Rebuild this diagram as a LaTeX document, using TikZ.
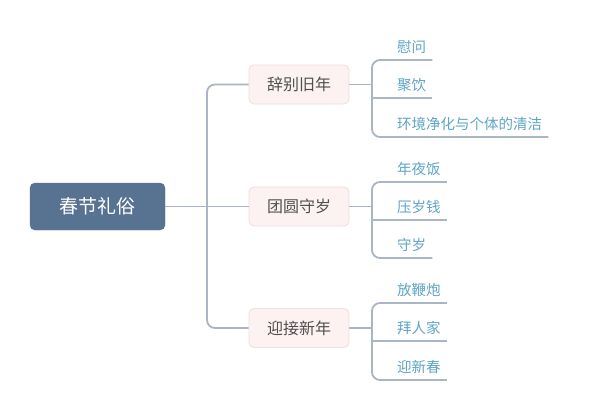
\documentclass[tikz,border=0pt]{standalone}
\usepackage{fontspec}
\setmainfont{Noto Sans CJK SC}
\usetikzlibrary{calc}
\definecolor{rootfill}{RGB}{88,115,145}
\definecolor{linec}{RGB}{170,182,195}
\definecolor{brfill}{RGB}{253,242,242}
\definecolor{brdraw}{RGB}{242,220,220}
\definecolor{brtext}{RGB}{80,80,80}
\definecolor{leaftext}{RGB}{95,165,200}
\tikzset{
  rootbox/.style={draw=rootfill, fill=rootfill, rounded corners=5pt, minimum width=135pt, minimum height=47pt, text=white, font=\fontsize{19}{22}\selectfont, inner sep=0pt},
  brbox/.style={draw=brdraw, line width=0.8pt, fill=brfill, rounded corners=5pt, minimum width=100pt, minimum height=39pt, text=brtext, font=\fontsize{16}{19}\selectfont, inner sep=0pt},
  leaf/.style={anchor=south west, inner sep=0pt, text=leaftext, font=\fontsize{14.5}{17}\selectfont},
  conn/.style={draw=linec, line width=1.8pt, rounded corners=8pt},
}
\begin{document}
\begin{tikzpicture}[x=1pt,y=-1pt]
\useasboundingbox (0,0) rectangle (600,400);
\fill[white] (0,0) rectangle (600,400);

\node[rootbox] (root) at (97.5,206.5) {春节礼俗};
\node[brbox] (b1) at (299,84.5) {辞别旧年};
\node[brbox] (b2) at (299,206.5) {团圆守岁};
\node[brbox] (b3) at (299,328) {迎接新年};

% leaves of b1
\node[leaf] (l11) at (397,54) {慰问};
\node[leaf] (l12) at (397,92) {聚饮};
\node[leaf] (l13) at (397,131) {环境净化与个体的清洁};
% leaves of b2
\node[leaf] (l21) at (397,176) {年夜饭};
\node[leaf] (l22) at (397,214) {压岁钱};
\node[leaf] (l23) at (397,252) {守岁};
% leaves of b3
\node[leaf] (l31) at (397,297) {放鞭炮};
\node[leaf] (l32) at (397,335) {拜人家};
\node[leaf] (l33) at (397,374) {迎新春};

\foreach \l in {l11,l12,l13,l21,l22,l23,l31,l32,l33}{
  \coordinate (e\l) at ($(\l.south east)+(6,6)$);
}

% main connectors
\coordinate (tr) at (207,0);
\draw[conn] (root.east) -- (b2.west);
\draw[conn] (b1.west) -- (b1.west -| tr) -- (b3.west -| tr) -- (b3.west);

% sub connectors
\coordinate (st) at (372,0);
\foreach \b/\a/\m/\z in {b1/l11/l12/l13, b2/l21/l22/l23, b3/l31/l32/l33}{
  \draw[conn] (\b.east) -- (\b.east -| st);
  \draw[conn] (e\a) -- (e\a -| st) -- (e\z -| st) -- (e\z);
  \draw[conn] (e\m -| st) -- (e\m);
}
\end{tikzpicture}
\end{document}
